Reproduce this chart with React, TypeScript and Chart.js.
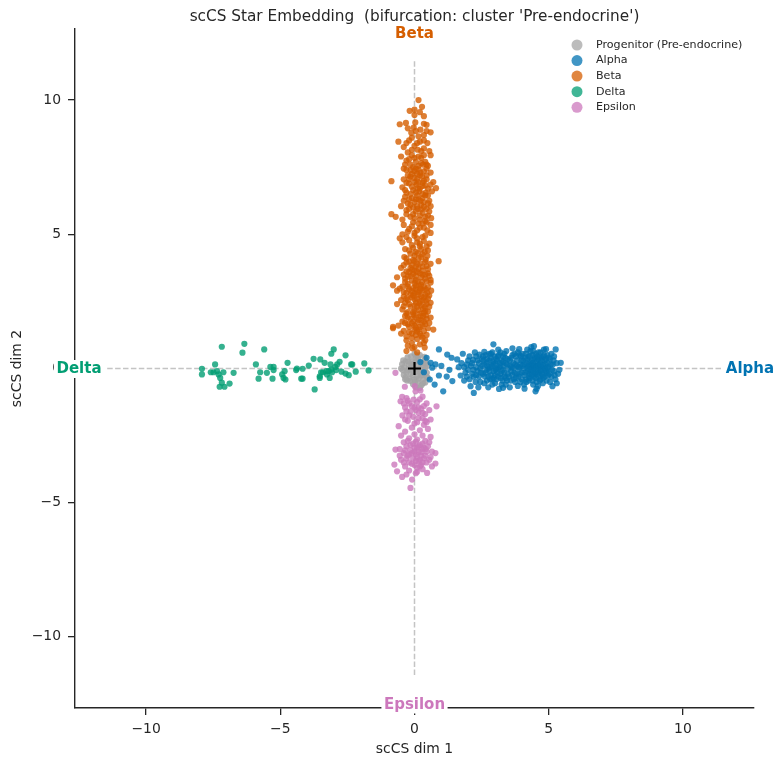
import React, { useEffect, useRef } from "react";
import { Chart, registerables } from "chart.js";

Chart.register(...registerables);

// ---------- data ----------
const titleText = "scCS Star Embedding  (bifurcation: cluster 'Pre-endocrine')";
const xLabel = "scCS dim 1";
const yLabel = "scCS dim 2";
const tickValues = [-10, -5, 0, 5, 10];
const axisMin = -12.65;
const axisMax = 12.65;
const armLength = 11.45;

const legendNames = ["Progenitor (Pre-endocrine)", "Alpha", "Beta", "Delta", "Epsilon"];
const branchNames = ["Alpha", "Beta", "Delta", "Epsilon"];
const branchTips: [number, number][] = [[12.5, 0], [0, 12.5], [-12.5, 0], [0, -12.5]];
const progenitorCenter: [number, number][] = [[0, 0]];

const progenitorPts: [number, number][] = [
  [0, 0], [0.12, 0.12], [-0.12, 0.14], [0.26, -0.12], [-0.27, -0.06], [0.33, 0.2], [-0.33, 0.26],
  [0.13, 0.4], [-0.13, 0.45], [0.4, 0.0], [-0.44, -0.06], [0.33, -0.4], [-0.33, -0.33], [0.13, -0.52],
  [-0.06, -0.58], [0.24, -0.26], [-0.2, 0.0], [0.06, 0.26], [-0.06, -0.26], [0.4, 0.33], [-0.46, 0.16],
  [0.2, 0.5], [-0.16, -0.46], [0.26, -0.62], [0.46, -0.16], [-0.4, -0.24], [0.0, 0.55], [0.06, -0.7],
  [-0.26, 0.42], [0.37, 0.43], [0.2, 0.0], [-0.13, -0.06], [0.0, -0.4], [0.16, 0.29], [-0.24, 0.26],
  [0.4, -0.52], [0.5, -0.35], [-0.5, 0.0], [0.5, 0.12], [0.2, -0.72],
  [-0.08, 0.05], [0.06, -0.12], [0.22, 0.2], [-0.22, 0.12], [0.3, -0.25], [-0.3, -0.15], [0.1, -0.28],
  [-0.1, 0.25], [0.28, 0.08], [-0.38, 0.05], [0.15, -0.38], [-0.2, -0.38], [0.05, 0.38], [-0.05, 0.18],
  [0.35, -0.05], [-0.15, -0.2], [0.42, 0.18], [-0.42, 0.3], [0.1, 0.48], [-0.28, -0.45], [0.32, -0.55],
  [0.02, -0.5], [0.18, -0.1], [-0.35, -0.4], [0.45, -0.3],
];

const alphaPts: [number, number][] = [
  [0.22, 0.24], [0.6, 0.21], [0.78, 0.15], [0.35, -0.14], [0.66, 0.03], [0.91, -0.26], [0.57, -0.41],
  [1.07, -0.85], [0.91, 0.71], [1.22, 0.52], [1.38, 0.4], [1.41, -0.47], [1.2, -0.3], [1.0, 0.1],
  [1.3, -0.05], [0.45, 0.4], [0.75, -0.6],
  [1.59, 0.34], [1.72, -0.26], [1.8, 0.55], [1.65, 0.05], [1.9, -0.15], [2.0, 0.3], [2.09, -0.66],
  [2.21, -0.91], [1.85, -0.45], [2.1, 0.1], [2.2, -0.3], [2.3, 0.45], [2.35, -0.1], [2.4, 0.2],
  [2.45, -0.5], [2.0, -0.05], [1.95, 0.15], [2.25, 0.6], [2.15, -0.2], [2.4, -0.3], [2.3, 0.05],
  [2.5, 0.35], [2.05, -0.4], [1.75, 0.2], [2.45, 0.0], [2.38, -0.7], [2.18, 0.32], [2.28, -0.5],
  [2.55, -0.2], [2.6, 0.15], [2.65, 0.5], [2.7, -0.45], [2.75, 0.0], [2.8, 0.3], [2.85, -0.25],
  [2.9, 0.6], [2.94, 0.9], [2.95, -0.1], [3.0, 0.2], [3.05, -0.4], [3.1, 0.45], [3.15, -0.76],
  [3.15, 0.05], [3.2, -0.2], [3.25, 0.3], [3.3, -0.05], [3.35, 0.55], [3.4, -0.35], [3.45, 0.15],
  [2.6, -0.55], [2.7, 0.35], [2.8, -0.1], [2.9, -0.6], [3.0, -0.25], [3.1, 0.0], [3.2, 0.6],
  [3.3, 0.25], [3.4, -0.6], [2.58, 0.3], [2.68, -0.05], [2.78, 0.55], [2.88, 0.1], [2.98, 0.45],
  [3.08, -0.15], [3.18, 0.2], [3.28, -0.45], [3.38, 0.4], [3.48, -0.2], [2.62, -0.3], [2.72, 0.1],
  [2.82, -0.4], [2.92, 0.25], [3.02, -0.05], [3.12, 0.7], [3.22, -0.35], [3.32, 0.1], [3.42, 0.65],
  [3.5, 0.0], [2.95, -0.35], [3.05, 0.35], [2.85, 0.4], [3.25, -0.6], [2.75, -0.7], [3.35, -0.15],
  [3.55, 0.3], [3.6, -0.1], [3.65, 0.5], [3.7, -0.4], [3.75, 0.15], [3.8, -0.2], [3.85, 0.6],
  [3.9, 0.0], [3.95, -0.5], [3.58, -0.45], [3.68, 0.2], [3.78, 0.45], [3.88, -0.3], [3.98, 0.3],
  [3.62, 0.05], [3.72, -0.15], [3.82, 0.1], [3.92, 0.5], [3.55, -0.7], [3.85, -0.65], [3.65, 0.75],
  [3.75, -0.5], [3.95, 0.15], [4.0, -0.15],
  [4.05, 0.3], [4.1, -0.25], [4.15, 0.55], [4.2, 0.0], [4.25, -0.45], [4.3, 0.25], [4.35, -0.1],
  [4.4, 0.5], [4.45, 0.83], [4.45, -0.3], [4.5, 0.1], [4.51, -0.85], [4.55, -0.5], [4.6, 0.35],
  [4.65, -0.15], [4.7, 0.6], [4.75, 0.05], [4.8, -0.35], [4.85, 0.3], [4.9, -0.1], [4.95, 0.5],
  [4.08, -0.6], [4.18, 0.2], [4.28, -0.2], [4.38, 0.05], [4.48, 0.35], [4.58, -0.05], [4.68, 0.2],
  [4.78, -0.55], [4.88, 0.15], [4.98, -0.25], [4.12, 0.4], [4.22, -0.1], [4.32, 0.65], [4.42, -0.6],
  [4.52, 0.55], [4.62, -0.3], [4.72, 0.4], [4.82, 0.7], [4.92, -0.45], [4.02, 0.1], [4.15, -0.4],
  [4.25, 0.45], [4.35, 0.15], [4.45, 0.0], [4.55, 0.25], [4.65, 0.05], [4.75, -0.2], [4.85, -0.05],
  [4.95, 0.2], [4.4, -0.45], [4.6, -0.65], [4.7, -0.4], [4.3, -0.35], [4.2, 0.7], [4.5, -0.15],
  [4.8, 0.45], [4.62, 0.6], [4.38, 0.3], [4.58, 0.15], [4.68, -0.1], [4.48, -0.2], [4.28, 0.1],
  [5.0, 0.0], [5.05, 0.35], [5.1, -0.3], [5.14, -0.66], [5.15, 0.15], [5.2, -0.1], [5.26, 0.71],
  [5.3, 0.2], [5.35, -0.2], [5.45, 0.21], [5.05, -0.5], [5.2, 0.45], [5.1, 0.55], [5.4, -0.05],
  [5.25, -0.4],
  [1.85, 0.05], [1.95, -0.3], [2.05, 0.45], [2.15, 0.2], [2.2, -0.05], [2.3, -0.25], [2.35, 0.3],
  [2.42, 0.52], [2.48, -0.15], [2.52, 0.1], [2.55, 0.45], [2.65, -0.15], [2.7, 0.22], [2.75, -0.3],
  [2.82, 0.05], [2.85, 0.55], [2.9, -0.4], [2.95, 0.15], [3.0, -0.55], [3.03, 0.0], [3.08, 0.28],
  [3.12, -0.3], [3.15, 0.5], [3.2, 0.1], [3.25, -0.1], [3.3, 0.45], [3.35, -0.3], [3.4, 0.2],
  [3.45, -0.45], [3.48, 0.35], [3.52, -0.3], [3.57, 0.1], [3.6, 0.4], [3.65, -0.25], [3.7, 0.0],
  [3.72, 0.55], [3.78, -0.35], [3.82, 0.3], [3.88, 0.05], [3.92, -0.2], [3.97, 0.45], [4.0, -0.4],
  [4.03, 0.55], [4.07, 0.0], [4.1, 0.15], [4.13, -0.15], [4.17, -0.5], [4.2, 0.35], [4.23, 0.1],
  [4.27, -0.3], [4.3, 0.45], [4.33, -0.05], [4.37, -0.25], [4.4, 0.2], [4.42, 0.65], [4.44, -0.1],
  [4.47, 0.1], [4.5, 0.4], [4.52, -0.35], [4.55, 0.05], [4.57, 0.45], [4.6, -0.2], [4.62, 0.1],
  [4.65, 0.4], [4.67, -0.45], [4.7, 0.15], [4.72, -0.05], [4.75, 0.3], [4.78, -0.25], [4.8, 0.1],
  [4.83, 0.5], [4.85, -0.3], [4.88, 0.0], [4.9, 0.35], [4.93, -0.15], [4.97, 0.05], [5.0, 0.4],
  [5.02, -0.2], [5.08, 0.15], [5.12, -0.05], [5.18, 0.3], [5.22, -0.25], [4.55, -0.75], [4.35, 0.8],
  [3.9, 0.72], [3.3, -0.72], [2.6, 0.62], [4.9, 0.72], [5.3, -0.55], [4.1, -0.75],
];

const betaPts: [number, number][] = [
  [0.15, 10.0], [0.28, 9.75], [0.0, 9.65], [-0.18, 9.6], [0.2, 9.55], [0.0, 9.45], [0.35, 9.4],
  [-0.55, 9.1], [-0.32, 9.15], [0.03, 9.17], [0.35, 9.12], [0.45, 9.08], [-0.03, 8.98], [0.22, 8.9],
  [-0.12, 8.78], [0.45, 8.85], [0.6, 8.8],
  [-0.6, 8.45], [-0.2, 8.5], [0.2, 8.45], [0.35, 8.2], [-0.4, 8.25], [0.0, 8.3], [0.12, 8.15],
  [0.55, 8.1], [-0.25, 8.05], [0.48, 8.4],
  [-0.5, 7.9], [-0.1, 7.95], [0.25, 7.85], [0.4, 7.7], [-0.35, 7.6], [0.05, 7.7], [0.15, 7.55],
  [-0.2, 7.8], [0.6, 7.95], [0.32, 7.6], [-0.05, 7.5], [0.5, 7.55],
  [-0.86, 6.98], [-0.3, 7.4], [0.0, 7.35], [0.22, 7.3], [0.45, 7.2], [-0.15, 7.15], [0.1, 7.05],
  [0.35, 7.0], [-0.4, 7.05], [0.6, 7.3], [0.05, 7.45], [-0.1, 7.25], [0.28, 7.15], [0.7, 6.95],
  [-0.2, 6.9], [0.08, 6.85], [0.3, 6.8], [-0.45, 6.75], [0.5, 6.7], [-0.05, 6.65], [0.18, 6.6],
  [0.42, 6.55], [-0.3, 6.55], [0.0, 6.95], [0.65, 6.6], [0.12, 6.72], [0.8, 6.72],
  [-0.35, 6.4], [-0.1, 6.35], [0.15, 6.3], [0.4, 6.45], [0.0, 6.2], [0.25, 6.1], [-0.25, 6.15],
  [0.55, 6.25], [0.6, 6.05], [-0.5, 6.05], [0.1, 6.45], [-0.05, 6.0], [0.35, 6.2],
  [-0.86, 5.75], [-0.7, 5.65], [-0.3, 5.9], [0.05, 5.85], [0.3, 5.8], [0.5, 5.7], [-0.15, 5.65],
  [0.2, 5.55], [0.62, 5.6], [-0.45, 5.55], [0.4, 5.5], [0.0, 5.6], [0.12, 5.95],
  [-0.4, 5.35], [-0.1, 5.3], [0.2, 5.25], [0.48, 5.15], [0.0, 5.05], [-0.25, 5.1], [0.6, 5.35],
  [0.3, 5.4], [0.6, 5.05], [-0.45, 5.0],
  [-0.3, 4.9], [0.1, 4.85], [0.35, 4.75], [-0.1, 4.6], [0.2, 4.55], [0.55, 4.65], [-0.45, 4.7],
  [0.0, 4.95], [0.4, 4.95],
  [-0.2, 4.4], [0.05, 4.35], [0.3, 4.25], [0.5, 4.4], [-0.38, 4.15], [0.15, 4.1], [-0.05, 4.05],
  [0.9, 4.0], [0.42, 4.05], [0.25, 4.45],
  [-0.5, 3.75], [-0.3, 3.95], [-0.1, 3.85], [0.1, 3.9], [0.3, 3.8], [0.5, 3.7], [-0.2, 3.6],
  [0.2, 3.55], [0.4, 3.5], [0.0, 3.65], [-0.4, 3.5], [0.6, 3.9], [0.15, 3.72], [-0.05, 3.52],
  [-0.8, 3.1], [-0.65, 3.4], [-0.35, 3.35], [-0.15, 3.45], [0.05, 3.3], [0.25, 3.4], [0.45, 3.25],
  [-0.25, 3.15], [0.15, 3.1], [0.35, 3.05], [-0.05, 3.0], [0.6, 3.2], [0.55, 3.45], [0.0, 3.18],
  [-0.45, 3.05], [0.28, 3.22],
  [-0.65, 2.9], [-0.4, 2.85], [-0.2, 2.95], [0.0, 2.8], [0.2, 2.9], [0.4, 2.75], [-0.3, 2.6],
  [-0.1, 2.65], [0.1, 2.6], [0.3, 2.55], [0.5, 2.6], [0.62, 2.9], [-0.5, 2.55], [0.05, 2.95],
  [0.25, 2.7], [-0.15, 2.75],
  [-0.65, 2.4], [-0.35, 2.45], [-0.15, 2.3], [0.05, 2.45], [0.25, 2.35], [0.45, 2.4], [-0.25, 2.1],
  [0.0, 2.15], [0.2, 2.05], [0.4, 2.15], [0.55, 2.3], [-0.45, 2.2], [0.1, 2.3], [-0.05, 2.02],
  [0.32, 2.22],
  [-0.8, 1.55], [-0.6, 1.6], [-0.35, 1.95], [-0.15, 1.85], [0.05, 1.9], [0.25, 1.8], [0.45, 1.85],
  [-0.25, 1.65], [0.0, 1.6], [0.2, 1.55], [0.4, 1.65], [0.7, 1.45], [-0.45, 1.75], [0.12, 1.72],
  [0.32, 1.95], [-0.05, 1.75],
  [-0.8, 1.5], [-0.4, 1.4], [-0.2, 1.35], [0.0, 1.45], [0.2, 1.3], [0.35, 1.4], [-0.1, 1.15],
  [0.1, 1.1], [0.3, 1.15], [0.45, 1.25], [-0.3, 1.05], [0.15, 1.45], [0.05, 1.25],
  [-0.1, 0.95], [0.2, 0.9], [0.35, 0.95], [0.0, 0.8], [-0.25, 0.85], [0.38, 0.78], [-0.3, 0.65],
  [0.1, 0.6], [-0.08, 0.75],
  [-0.3, 1.2], [-0.1, 1.3], [0.1, 1.38], [0.25, 1.22], [0.4, 1.05], [-0.2, 1.55], [0.05, 1.52],
  [0.3, 1.6], [0.5, 1.5], [-0.35, 1.7], [-0.1, 1.68], [0.15, 1.82], [0.35, 1.75], [0.55, 1.7],
  [-0.25, 1.9], [0.0, 1.98], [0.22, 1.95], [0.42, 1.98], [0.6, 1.9], [-0.5, 1.3],
  [-0.3, 2.05], [-0.05, 2.1], [0.15, 2.18], [0.35, 2.08], [0.5, 2.12], [-0.4, 2.32], [-0.2, 2.4],
  [0.0, 2.35], [0.18, 2.42], [0.38, 2.3], [0.6, 2.45], [-0.25, 2.55], [0.0, 2.58], [0.2, 2.5],
  [0.42, 2.52], [-0.4, 2.68], [-0.05, 2.72], [0.15, 2.75], [0.35, 2.65], [0.55, 2.72], [-0.3, 2.82],
  [-0.1, 2.88], [0.12, 2.85], [0.3, 2.92], [0.48, 2.82], [-0.55, 2.98], [0.22, 2.98], [0.42, 2.95],
  [-0.25, 3.05], [0.05, 3.08], [0.25, 3.12], [0.5, 3.02], [-0.35, 3.22], [-0.1, 3.28], [0.12, 3.25],
  [0.4, 3.35], [0.6, 3.3], [-0.25, 3.42], [0.05, 3.45], [0.3, 3.5], [0.5, 3.55], [-0.3, 3.62],
  [-0.1, 3.68], [0.1, 3.6], [0.3, 3.65], [0.45, 3.82], [-0.4, 3.85], [-0.15, 3.75], [0.05, 3.8],
  [0.22, 3.92], [0.4, 3.98], [-0.2, 3.98], [0.0, 4.0],
  [-0.3, 4.1], [0.0, 4.2], [0.25, 4.15], [0.48, 4.2], [-0.15, 4.28], [0.12, 4.3], [0.38, 4.35],
  [-0.35, 4.45], [-0.05, 4.5], [0.2, 4.65], [0.45, 4.55], [-0.2, 4.78], [0.1, 4.7], [0.3, 4.9],
  [-0.55, 4.85],
  [-0.2, 5.2], [0.1, 5.15], [0.35, 5.25], [-0.05, 5.45], [0.15, 5.4], [0.45, 5.45], [-0.3, 5.75],
  [-0.05, 5.75], [0.2, 5.7], [0.4, 5.65], [0.55, 5.85], [-0.2, 5.95], [0.25, 5.92], [0.45, 5.95],
  [-0.15, 6.1], [0.1, 6.05], [0.35, 6.02], [0.5, 6.15], [-0.4, 6.25], [-0.2, 6.3], [0.05, 6.3],
  [0.3, 6.35], [0.22, 6.25], [-0.15, 6.5], [0.05, 6.55], [0.3, 6.5], [0.5, 6.45], [-0.35, 6.65],
  [-0.1, 6.78], [0.2, 6.7], [0.4, 6.82], [0.6, 6.85], [-0.3, 6.92], [0.15, 6.95], [0.3, 6.92],
  [-0.2, 7.05], [0.0, 7.1], [0.2, 7.2], [0.45, 7.05], [-0.25, 7.2], [0.1, 7.25], [0.35, 7.35],
  [-0.15, 7.4], [0.15, 7.42], [0.45, 7.45], [-0.4, 7.45], [-0.15, 7.6], [0.25, 7.65], [0.45, 7.6],
  [0.0, 7.85], [0.15, 7.9], [-0.3, 7.75], [0.35, 7.95],
  [-0.1, 8.15], [0.25, 8.1], [-0.3, 8.4], [0.1, 8.4], [0.35, 8.5], [-0.1, 8.6], [0.15, 8.65],
  [0.35, 8.7], [0.05, 8.85], [-0.25, 8.95],
];

const deltaPts: [number, number][] = [
  [-7.92, -0.01], [-7.92, -0.22], [-7.18, 0.81], [-6.34, 0.92], [-6.41, 0.59], [-7.43, 0.15],
  [-7.59, -0.14], [-7.49, -0.14], [-7.36, -0.1], [-7.3, -0.22], [-7.24, -0.35], [-7.12, -0.14],
  [-7.18, -0.53], [-7.26, -0.68], [-7.08, -0.68], [-6.89, -0.56], [-6.74, -0.16], [-5.6, 0.71],
  [-5.91, 0.15], [-5.75, -0.14], [-5.81, -0.38], [-5.5, -0.16], [-5.37, 0.06], [-5.25, 0.06],
  [-5.25, -0.06], [-5.29, -0.38], [-4.73, 0.21], [-4.84, -0.1], [-4.88, -0.35], [-4.81, -0.41],
  [-4.93, -0.22], [-4.41, -0.06], [-4.38, 0.0], [-4.17, -0.01], [-4.22, -0.38], [-4.17, -0.38],
  [-3.94, 0.11], [-3.76, 0.36], [-3.72, -0.78], [-3.51, 0.34], [-3.35, 0.21], [-3.48, -0.14],
  [-3.53, -0.29], [-3.53, -0.35], [-3.41, -0.14], [-3.28, -0.1], [-3.13, 0.15], [-3.1, -0.04],
  [-3.2, -0.1], [-3.26, -0.22], [-3.07, -0.14], [-3.01, 0.71], [-3.1, 0.55], [-2.88, 0.15],
  [-2.79, 0.25], [-2.95, 0.06], [-2.92, -0.06], [-3.16, -0.35], [-2.72, -0.12], [-2.57, 0.49],
  [-2.57, -0.19], [-2.45, -0.25], [-2.36, 0.15], [-2.32, 0.15], [-2.19, -0.12], [-1.87, 0.19],
  [-1.71, -0.07],
];

const epsilonPts: [number, number][] = [
  [-0.71, -0.16], [-0.36, -0.68], [0.01, -0.66], [0.04, -0.85], [0.22, -0.82], [-0.46, -1.06],
  [-0.03, -1.16], [-0.52, -1.22], [0.82, -1.41], [0.3, -1.05], [0.1, -1.25], [-0.2, -1.3],
  [0.45, -1.3], [-0.35, -1.45], [0.0, -1.45], [0.25, -1.5], [0.55, -1.55], [-0.15, -1.6],
  [0.15, -1.65], [0.4, -1.7], [-0.45, -1.75], [-0.05, -1.8], [0.3, -1.85], [0.6, -1.9],
  [-0.25, -1.95], [0.1, -2.0], [-0.59, -2.15], [0.35, -2.1], [-0.1, -2.2], [0.2, -2.3],
  [0.5, -2.25], [-0.35, -2.35], [0.0, -2.45], [0.3, -2.5], [-0.5, -2.5], [0.6, -2.55],
  [-0.2, -2.6], [0.1, -2.65], [0.4, -2.7], [-0.4, -2.75], [-0.05, -2.8], [0.2, -2.85],
  [0.5, -2.9], [-0.3, -2.9], [0.0, -2.95], [-0.71, -3.02], [0.3, -3.0], [-0.15, -3.05],
  [0.15, -3.1], [0.45, -3.1], [0.78, -3.15], [-0.4, -3.15], [0.05, -3.2], [0.25, -3.25],
  [-0.25, -3.25], [0.6, -3.3], [-0.05, -3.35], [0.35, -3.35], [-0.5, -3.4], [0.15, -3.45],
  [-0.2, -3.5], [0.45, -3.5], [0.78, -3.54], [-0.75, -3.58], [0.0, -3.6], [0.25, -3.6],
  [-0.35, -3.65], [0.1, -3.7], [-0.65, -3.83], [0.47, -3.89], [-0.46, -4.04], [-0.09, -4.14],
  [-0.15, -4.45], [0.05, -3.9], [0.3, -3.75], [-0.2, -3.8], [0.55, -2.75], [0.1, -2.95],
  [-0.1, -3.15], [0.35, -2.95], [0.2, -3.4], [-0.3, -1.1], [0.45, -2.0], [-0.55, -3.0],
  [0.65, -3.65],
  [-0.25, -1.2], [0.2, -1.15], [-0.4, -1.3], [0.35, -1.4], [-0.1, -1.4], [0.15, -1.45],
  [-0.3, -1.6], [0.05, -1.55], [0.3, -1.65], [-0.2, -1.75], [0.15, -1.85], [-0.35, -1.9],
  [0.4, -1.95], [0.0, -2.05], [-0.25, -2.7], [0.05, -2.72], [0.3, -2.8], [-0.15, -2.85],
  [0.15, -2.9], [0.42, -3.0], [-0.35, -3.05], [0.0, -3.1], [0.25, -3.12], [-0.2, -3.2],
  [0.1, -3.3], [0.4, -3.25], [-0.3, -3.35], [0.05, -3.45], [0.3, -3.5], [-0.1, -3.55],
  [0.2, -3.65], [-0.4, -3.5], [0.55, -3.4], [0.65, -3.1], [-0.55, -3.25], [0.1, -3.85],
  [-0.3, -3.95],
];

// ---------- styles ----------
const FONT = "'DejaVu Sans', 'Liberation Sans', sans-serif";
const TEXT = "#262626";
const colorBase = ["165,165,165", "1,115,178", "213,94,0", "2,158,115", "204,120,188"];
const labelColors = ["#0173b2", "#d55e00", "#029e73", "#cc78bc"];

const toXY = (pts: [number, number][]) => pts.map(([x, y]) => ({ x, y }));
const fmtTick = (v: number | string) => String(v).replace("-", "\u2212");

const overlayPlugin = {
  id: "overlay",
  beforeDatasetsDraw(chart: any) {
    const { ctx, scales } = chart;
    const xs = scales.x, ys = scales.y;
    ctx.save();
    ctx.strokeStyle = "#c4c4c4";
    ctx.lineWidth = 1.5;
    ctx.setLineDash([5.5, 2.4]);
    ctx.beginPath();
    ctx.moveTo(xs.getPixelForValue(-armLength), ys.getPixelForValue(0));
    ctx.lineTo(xs.getPixelForValue(armLength), ys.getPixelForValue(0));
    ctx.moveTo(xs.getPixelForValue(0), ys.getPixelForValue(armLength));
    ctx.lineTo(xs.getPixelForValue(0), ys.getPixelForValue(-armLength));
    ctx.stroke();
    ctx.restore();
  },
  afterDraw(chart: any) {
    const { ctx, scales, chartArea } = chart;
    const xs = scales.x, ys = scales.y;
    const cx = (chartArea.left + chartArea.right) / 2;
    const cy = (chartArea.top + chartArea.bottom) / 2;
    ctx.save();
    ctx.textBaseline = "middle";
    ctx.textAlign = "center";
    // title
    ctx.fillStyle = TEXT;
    ctx.font = `15.3px ${FONT}`;
    ctx.fillText(titleText, cx, 17.5);
    // axis titles
    ctx.font = `13.9px ${FONT}`;
    ctx.fillText(xLabel, cx, 749);
    ctx.save();
    ctx.translate(17, cy);
    ctx.rotate(-Math.PI / 2);
    ctx.fillText(yLabel, 0, 0);
    ctx.restore();
    // branch labels
    ctx.font = `bold 15px ${FONT}`;
    branchNames.forEach((name, i) => {
      const px = xs.getPixelForValue(branchTips[i][0]);
      const py = ys.getPixelForValue(branchTips[i][1]);
      const w = ctx.measureText(name).width;
      ctx.fillStyle = "#ffffff";
      ctx.fillRect(px - w / 2 - 2.5, py - 8.5, w + 5, 18);
      ctx.fillStyle = labelColors[i];
      ctx.fillText(name, px, py + 1);
    });
    // legend
    ctx.textAlign = "left";
    ctx.font = `11.1px ${FONT}`;
    const rows = [45, 60.6, 76.1, 91.7, 107.3];
    legendNames.forEach((name, i) => {
      ctx.beginPath();
      ctx.arc(577, rows[i], 5.5, 0, Math.PI * 2);
      ctx.fillStyle = `rgba(${colorBase[i]},0.75)`;
      ctx.fill();
      ctx.fillStyle = TEXT;
      ctx.fillText(name, 596, rows[i]);
    });
    ctx.restore();
  },
};

function makeDataset(label: string, pts: [number, number][], idx: number, order: number, alpha = 0.8) {
  return {
    label,
    data: toXY(pts),
    backgroundColor: `rgba(${colorBase[idx]},${alpha})`,
    borderWidth: 0,
    pointRadius: 3.1,
    pointHoverRadius: 3.1,
    order,
  };
}

export default function App() {
  const canvasRef = useRef<HTMLCanvasElement | null>(null);

  useEffect(() => {
    if (!canvasRef.current) return;
    const axisCommon = (pad: number) => ({
      type: "linear" as const,
      min: axisMin,
      max: axisMax,
      afterBuildTicks: (s: any) => {
        s.ticks = tickValues.map((v) => ({ value: v }));
      },
      grid: {
        display: true,
        drawOnChartArea: false,
        drawTicks: true,
        tickLength: 7,
        color: TEXT,
        lineWidth: 1.3,
      },
      border: { display: true, color: TEXT, width: 1.4 },
      ticks: {
        font: { family: FONT, size: 13.9 },
        color: TEXT,
        padding: pad,
        autoSkip: false,
        maxRotation: 0,
        callback: (v: any) => fmtTick(v),
      },
    });
    const chart = new Chart(canvasRef.current, {
      type: "scatter",
      data: {
        datasets: [
          {
            label: "center",
            data: toXY(progenitorCenter),
            pointStyle: "cross",
            pointRadius: 6.5,
            borderColor: "#000000",
            borderWidth: 2.2,
            order: 0,
          } as any,
          makeDataset(legendNames[4], epsilonPts, 4, 1),
          makeDataset(legendNames[3], deltaPts, 3, 2),
          makeDataset(legendNames[2], betaPts, 2, 3),
          makeDataset(legendNames[1], alphaPts, 1, 4),
          makeDataset(legendNames[0], progenitorPts, 0, 5, 0.85),
        ],
      },
      options: {
        animation: false,
        responsive: false,
        maintainAspectRatio: false,
        events: [],
        layout: { padding: { left: 0, right: 30, top: 29, bottom: 0 } },
        plugins: {
          legend: { display: false },
          title: { display: false },
          tooltip: { enabled: false },
        },
        scales: {
          x: {
            ...axisCommon(6),
            position: "bottom",
            afterFit: (s: any) => {
              s.height = 58;
            },
          },
          y: {
            ...axisCommon(7),
            position: "left",
            afterFit: (s: any) => {
              s.width = 75;
            },
          },
        } as any,
      },
      plugins: [overlayPlugin],
    });
    return () => chart.destroy();
  }, []);

  return (
    <div style={{ position: "fixed", left: 0, top: 0, width: 784, height: 766, background: "#fff" }}>
      <canvas ref={canvasRef} width={784} height={766} style={{ display: "block" }} />
    </div>
  );
}
